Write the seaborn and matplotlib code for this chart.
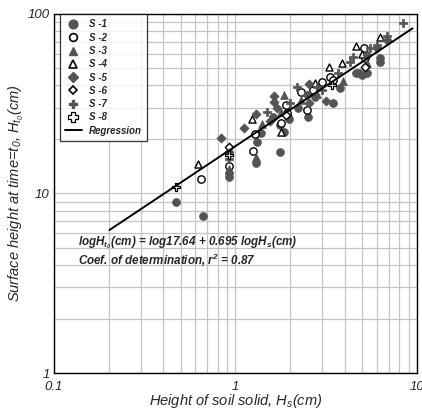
import matplotlib
matplotlib.use("Agg")
import matplotlib.pyplot as plt
import seaborn as sns
import numpy as np
from matplotlib.lines import Line2D

sns.set_theme(style="white")
plt.rcParams['font.family'] = ['Liberation Sans', 'DejaVu Sans']
plt.rcParams['mathtext.fontset'] = 'custom'
plt.rcParams['mathtext.rm'] = 'Liberation Sans:italic'
plt.rcParams['mathtext.it'] = 'Liberation Sans:italic'
plt.rcParams['mathtext.bf'] = 'Liberation Sans:italic:bold'

# ---- data ----
s1_x = [0.47, 0.66, 0.92, 0.92, 1.29, 1.31, 1.39, 1.76, 1.84, 1.94, 2.2, 2.5, 2.74, 3.45, 3.76, 4.61, 4.8, 5.0, 5.3, 6.25, 6.25, 1.62, 1.77, 1.97]
s1_y = [8.97, 7.5, 12.4, 13.0, 14.8, 19.4, 21.8, 17.1, 22.0, 26.7, 30.0, 26.7, 34.4, 31.8, 38.8, 47, 47, 45.7, 47, 56.9, 54, 26.7, 24.1, 26.0]
s2_x = [0.645, 0.92, 1.25, 1.28, 1.78, 1.90, 2.29, 2.67, 2.47, 3.33, 3.45, 3.0, 5.11, 5.2, 1.92]
s2_y = [12.0, 14.2, 17.2, 21.5, 24.7, 31.1, 36.8, 37.7, 29.0, 44.6, 43.0, 41.7, 64.7, 56.9, 28.0]
s3_x = [0.92, 1.29, 1.86, 1.40, 2.29, 2.8, 3.9, 5.3, 1.78]
s3_y = [13.7, 16.0, 35.3, 24.4, 33.0, 36.0, 42.5, 53, 28.5]
s4_x = [0.62, 1.23, 1.78, 2.74, 3.27, 3.86, 4.61, 6.25, 5.0]
s4_y = [14.6, 26.0, 22.0, 41.0, 50.7, 53.3, 66.4, 74.5, 60]
s5_x = [0.83, 0.92, 1.11, 1.29, 1.63, 1.63, 1.70, 2.54, 2.47, 3.15, 5.3, 6.84, 6.05, 2.55, 1.55]
s5_y = [20.4, 17.0, 23.2, 27.7, 34.9, 32.3, 29.9, 40.7, 35.3, 32.7, 59, 71.6, 64.7, 31.8, 25.5]
s6_x = [0.92, 5.2, 1.90]
s6_y = [18.2, 50.7, 27.5]
s7_x = [1.49, 2.18, 2.82, 3.67, 4.27, 4.43, 5.5, 6.84, 6.05, 8.37, 0.92, 3.0, 2.0]
s7_y = [28.4, 39.2, 39.0, 47, 54, 57.6, 64.7, 75, 67, 89, 15.5, 37.7, 32]
s8_x = [0.47, 0.92, 3.4]
s8_y = [10.9, 16.3, 40]
reg_x = [0.202, 9.46]
reg_y = [6.26, 83.2]

series_names = ["S -1", "S -2", "S -3", "S -4", "S -5", "S -6", "S -7", "S -8"]
series_x = [s1_x, s2_x, s3_x, s4_x, s5_x, s6_x, s7_x, s8_x]
series_y = [s1_y, s2_y, s3_y, s4_y, s5_y, s6_y, s7_y, s8_y]
markers = ['o', 'o', '^', '^', 'D', 'D', 'P', 'P']
filled = [True, False, True, False, True, False, True, False]
sizes = [32, 28, 32, 26, 22, 18, 38, 40]
leg_sizes = [6.3, 5.6, 6.3, 5.6, 5.0, 4.5, 6.3, 7.0]
leg_edge = [1.0, 1.2, 1.0, 1.2, 1.0, 1.2, 1.0, 0.9]

fill_col = '#545454'

fig = plt.figure(figsize=(4.22, 4.17), dpi=100)
ax = fig.add_axes([0.128, 0.1055, 0.86, 0.861])
ax.set_xscale('log')
ax.set_yscale('log')
ax.set_xlim(0.1, 10)
ax.set_ylim(1, 100)

ax.grid(True, which='both', color='#c4c4c4', linewidth=0.9)
ax.set_axisbelow(True)

handles = []
for name, xs, ys, m, f, s, ls, le in zip(series_names, series_x, series_y, markers, filled,
                                         sizes, leg_sizes, leg_edge):
    if f:
        sns.scatterplot(x=xs, y=ys, marker=m, s=s, color=fill_col, edgecolor=fill_col,
                        linewidth=0.5, ax=ax, zorder=3)
        h = Line2D([], [], linestyle='none', marker=m, markersize=ls,
                   markerfacecolor=fill_col, markeredgecolor=fill_col)
    else:
        sns.scatterplot(x=xs, y=ys, marker=m, s=s, facecolor='white', edgecolor='black',
                        linewidth=1.0 if m != 'P' else 0.9, ax=ax, zorder=3)
        h = Line2D([], [], linestyle='none', marker=m, markersize=ls,
                   markerfacecolor='white', markeredgecolor='black', markeredgewidth=le)
    handles.append(h)

sns.lineplot(x=reg_x, y=reg_y, color='black', linewidth=1.4, ax=ax, zorder=4)
handles.append(Line2D([], [], color='black', linewidth=1.4))
labels = series_names + ["Regression"]

leg = ax.legend(handles, labels, loc='upper left', bbox_to_anchor=(0.016, 1.0),
                borderaxespad=0, frameon=True, fancybox=False, edgecolor='black',
                prop={'weight': 'bold', 'style': 'italic', 'size': 7},
                labelspacing=0.34, handlelength=1.7, handletextpad=0.7,
                borderpad=0.55)
leg.get_frame().set_linewidth(0.9)
leg.set_zorder(6)

ax.tick_params(which='major', direction='in', length=5, width=1, color='#777777',
               labelsize=9.5)
ax.tick_params(axis='x', which='major', pad=6)
ax.tick_params(axis='y', which='major', pad=3)
ax.tick_params(which='minor', direction='in', length=3, width=0.8, color='#999999')
ax.set_xticks([0.1, 1, 10])
ax.set_xticklabels(['0.1', '1', '10'], fontstyle='italic')
ax.set_yticks([1, 10, 100])
ax.set_yticklabels(['1', '10', '100'], fontstyle='italic')
ax.xaxis.set_minor_formatter(matplotlib.ticker.NullFormatter())
ax.yaxis.set_minor_formatter(matplotlib.ticker.NullFormatter())

for sp in ax.spines.values():
    sp.set_color('black')
    sp.set_linewidth(1.0)

ax.set_xlabel(r"Height of soil solid, H$_s$(cm)", fontstyle='italic', fontsize=10.5, labelpad=-1)
ax.set_ylabel(r"Surface height at time=t$_0$, H$_{t_0}$(cm)", fontstyle='italic', fontsize=10.5, labelpad=1)

ax.text(0.066, 0.362, r"logH$_{\mathbf{t_0}}$(cm) = log17.64 + 0.695 logH$_{\mathbf{s}}$(cm)",
        transform=ax.transAxes, fontsize=8.4, fontweight='bold', fontstyle='italic',
        va='center', ha='left', zorder=5)
ax.text(0.066, 0.315, r"Coef. of determination, r$^{\mathbf{2}}$ = 0.87",
        transform=ax.transAxes, fontsize=8.4, fontweight='bold', fontstyle='italic',
        va='center', ha='left', zorder=5)

fig.savefig("out.png", dpi=100)
